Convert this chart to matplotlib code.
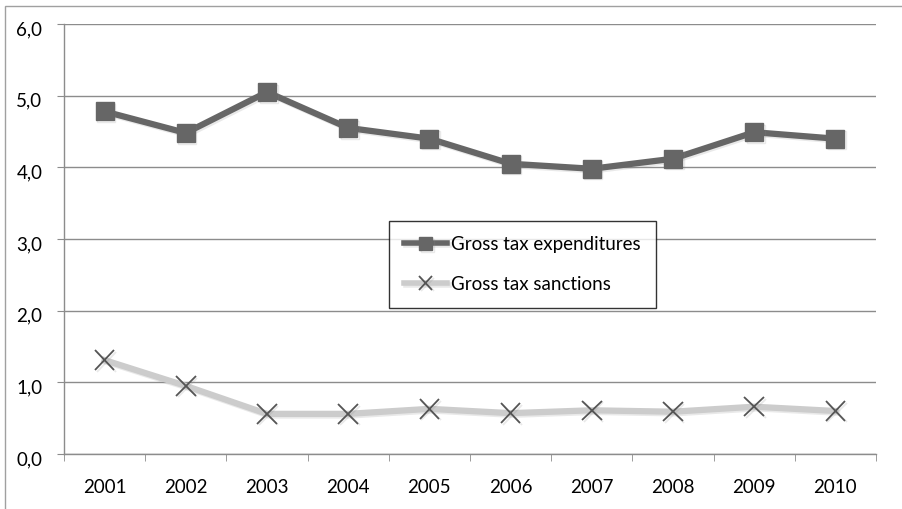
import matplotlib.pyplot as plt
import matplotlib.patheffects as pe
import matplotlib.transforms as mtransforms
from matplotlib.patches import Rectangle
from matplotlib.ticker import FixedLocator, FuncFormatter

# data
years = ['2001', '2002', '2003', '2004', '2005', '2006', '2007', '2008', '2009', '2010']
expenditures = [4.78, 4.48, 5.05, 4.55, 4.40, 4.05, 3.98, 4.12, 4.49, 4.40]
sanctions = [1.31, 0.95, 0.56, 0.56, 0.63, 0.57, 0.61, 0.59, 0.66, 0.60]
y_ticks = [0, 1, 2, 3, 4, 5, 6]

plt.rcParams['font.family'] = ['Lato', 'DejaVu Sans']
FS = 13.5

W, H = 902, 509
fig = plt.figure(figsize=[W / 100, H / 100], dpi=100)
fig.patch.set_facecolor('white')

# outer chart frame
fig.add_artist(Rectangle((5 / W, -0.1), 1.2, 1 - 6 / H + 0.1, transform=fig.transFigure,
                         fill=False, edgecolor='#a0a0a0', linewidth=1.0))

ax = fig.add_axes([64 / W, 1 - 454 / H, (876 - 64) / W, (454 - 24) / H])
x = list(range(len(years)))

shadow = [pe.SimpleLineShadow(offset=(1.2, -1.2), shadow_color='#888888', alpha=0.18), pe.Normal()]
ax.plot(x, expenditures, color='#666666', linewidth=4.5, marker='s', markersize=13,
        markerfacecolor='#666666', markeredgecolor='#666666', label='Gross tax expenditures',
        zorder=3, path_effects=shadow)
ax.plot(x, sanctions, color='#cccccc', linewidth=4.5, marker='x', markersize=14,
        markeredgewidth=1.3, markeredgecolor='#555555', label='Gross tax sanctions', zorder=3,
        path_effects=shadow)

ax.set_xlim(-0.5, len(years) - 0.5)
ax.set_ylim(0, 6)
ax.yaxis.set_major_locator(FixedLocator(y_ticks))
ax.yaxis.set_major_formatter(FuncFormatter(lambda v, p: f'{v:.1f}'.replace('.', ',')))
ax.set_xticks(x)
ax.set_xticklabels(years)
ax.xaxis.set_minor_locator(FixedLocator([i - 0.5 for i in range(len(years) + 1)]))

ax.grid(axis='y', color='#8c8c8c', linewidth=1.0)
ax.set_axisbelow(True)
for s in ['top', 'right']:
    ax.spines[s].set_visible(False)
for s in ['left', 'bottom']:
    ax.spines[s].set_color('#8c8c8c')
    ax.spines[s].set_linewidth(1.0)

ax.tick_params(axis='x', which='major', length=0, pad=18, labelsize=FS, colors='black')
ax.tick_params(axis='x', which='minor', length=5, color='#8c8c8c', direction='out')
ax.tick_params(axis='y', length=5, color='#8c8c8c', pad=10.5, labelsize=FS)

# y labels sit a little below their gridlines in the reference
shift = mtransforms.ScaledTranslation(0, -4 / 100, fig.dpi_scale_trans)
for lab in ax.get_yticklabels():
    lab.set_transform(lab.get_transform() + shift)

leg = ax.legend(loc='upper left', bbox_to_anchor=(389 / W, 1 - 221 / H), bbox_transform=fig.transFigure,
                frameon=True, fancybox=False, fontsize=FS, handlelength=2.3, handletextpad=0.2,
                borderpad=0.8, labelspacing=1.2, borderaxespad=0)
leg.get_frame().set_edgecolor('black')
leg.get_frame().set_linewidth(1.0)
for h in leg.legend_handles:
    h.set_markersize(9.5)
    h.set_linewidth(4)

fig.savefig('out.png', dpi=100, facecolor='white')
